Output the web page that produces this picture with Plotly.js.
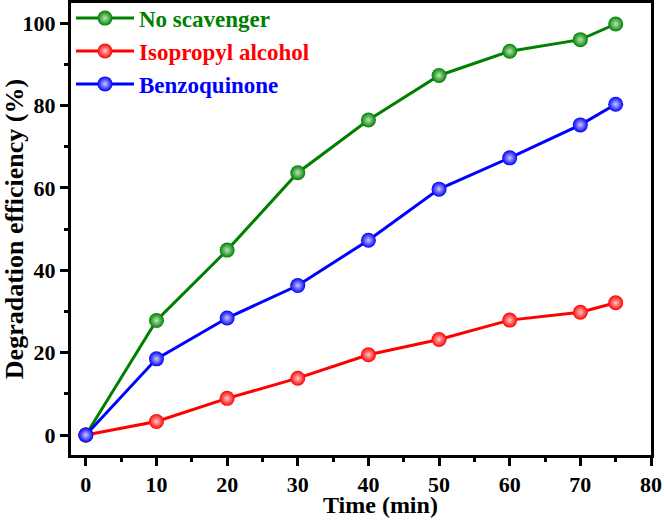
<!DOCTYPE html>
<html><head><meta charset="utf-8">
<script src="https://cdn.plot.ly/plotly-3.0.1.min.js"></script>
<style>body{margin:0;padding:0;background:#fff}#chart{width:664px;height:520px}</style>
</head><body><div id="chart"></div>
<script>
const time = [0, 10, 20, 30, 40, 50, 60, 70, 75];
const noScavenger = [0, 27.8, 44.9, 63.7, 76.5, 87.3, 93.2, 96.0, 99.8];
const isopropylAlcohol = [0, 3.3, 8.9, 13.8, 19.5, 23.2, 27.9, 29.8, 32.1];
const benzoquinone = [0, 18.5, 28.4, 36.3, 47.3, 59.7, 67.3, 75.3, 80.3];
const names = ['No scavenger', 'Isopropyl alcohol', 'Benzoquinone'];
const colors = ['#008000', '#ff0000', '#0000ff'];
const lightColors = ['#b8e8b8', '#ffc8c8', '#c8c8ff'];
const series = [noScavenger, isopropylAlcohol, benzoquinone];
const xTitle = 'Time (min)';
const yTitle = 'Degradation efficiency (%)';
const font = 'Liberation Serif, Times New Roman, serif';

const traces = series.map((ys, i) => ({
  x: time, y: ys, type: 'scatter', mode: 'lines+markers',
  name: '<span style="color:' + colors[i] + '">' + names[i] + '</span>',
  line: {color: colors[i], width: 3},
  marker: {color: colors[i], size: 15, line: {width: 0},
           gradient: {type: 'radial', color: lightColors[i]}}
}));

const axisCommon = {
  showline: true, linecolor: '#000', linewidth: 3, mirror: true,
  ticks: 'outside', ticklen: 8, tickwidth: 3, tickcolor: '#000',
  showgrid: false, zeroline: false, automargin: false,
  tickfont: {family: font, size: 22, color: '#000', weight: 'bold'},
  minor: {ticks: 'outside', ticklen: 4, tickwidth: 3, tickcolor: '#000', showgrid: false}
};

const layout = {
  width: 664, height: 520,
  margin: {l: 71, r: 13, t: 3, b: 65, autoexpand: false},
  paper_bgcolor: '#fff', plot_bgcolor: '#fff',
  showlegend: true,
  legend: {x: 0.0, y: 1.014, xanchor: 'left', yanchor: 'top', bgcolor: 'rgba(0,0,0,0)',
           font: {family: font, size: 23, weight: 'bold'}, tracegroupgap: 0, itemwidth: 58},
  xaxis: Object.assign({}, axisCommon, {
    range: [-2.1, 80], tickmode: 'array', tickvals: [0,10,20,30,40,50,60,70,80],
    minor: Object.assign({}, axisCommon.minor, {tickvals: [5,15,25,35,45,55,65,75]})
  }),
  yaxis: Object.assign({}, axisCommon, {
    range: [-4.85, 104.9], tickmode: 'array', tickvals: [0,20,40,60,80,100],
    minor: Object.assign({}, axisCommon.minor, {tickvals: [10,30,50,70,90]}),
    title: {text: yTitle, font: {family: font, size: 26, color: '#000', weight: 'bold'}, standoff: 4}
  }),
  annotations: [{
    text: xTitle, xref: 'paper', yref: 'paper', x: 0.533, y: -0.1425,
    xanchor: 'center', yanchor: 'bottom', showarrow: false, borderpad: 0,
    font: {family: font, size: 24, color: '#000', weight: 'bold'}
  }]
};

Plotly.newPlot('chart', traces, layout, {displayModeBar: false, staticPlot: true});
</script></body></html>
